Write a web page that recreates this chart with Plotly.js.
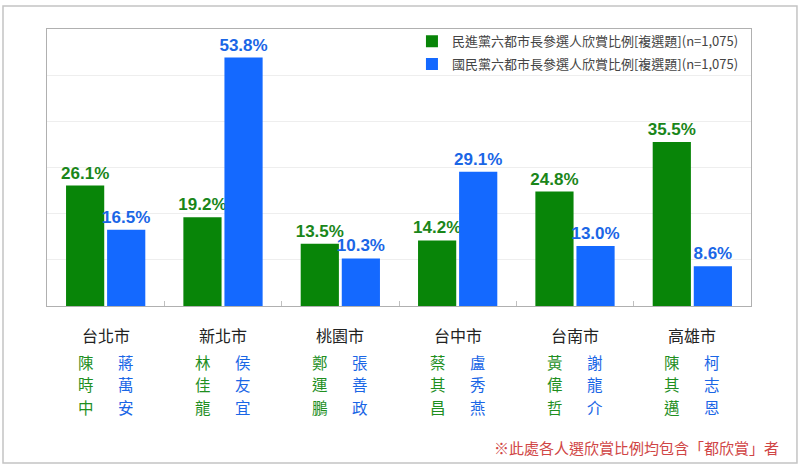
<!DOCTYPE html>
<html><head><meta charset="utf-8">
<script src="https://cdn.plot.ly/plotly-3.0.1.min.js"></script>
<style>body{margin:0;background:#fff}#c{width:800px;height:471px}</style>
</head><body><div id="c"></div>
<script>
const cities = ['台北市','新北市','桃園市','台中市','台南市','高雄市'];
const dppCandidates = ['陳時中','林佳龍','鄭運鵬','蔡其昌','黃偉哲','陳其邁'];
const kmtCandidates = ['蔣萬安','侯友宜','張善政','盧秀燕','謝龍介','柯志恩'];
const dppValues = [26.1, 19.2, 13.5, 14.2, 24.8, 35.5];
const kmtValues = [16.5, 53.8, 10.3, 29.1, 13.0, 8.6];
const dppName = '民進黨六都市長參選人欣賞比例[複選題](n=1,075)';
const kmtName = '國民黨六都市長參選人欣賞比例[複選題](n=1,075)';
const footnote = '※此處各人選欣賞比例均包含「都欣賞」者';

const GREEN = '#088508', BLUE = '#1469ff';
const LG = '#1a861a', LB = '#1a66e6';
const CJK = '"Noto Sans CJK TC", "Noto Sans CJK SC", sans-serif';

const fmt = v => v.toFixed(1) + '%';
const traces = [
  {type:'bar', name:dppName, legendgroup:'a', x:cities, y:dppValues, marker:{color:GREEN},
   text:dppValues.map(fmt), textposition:'outside', cliponaxis:false, constraintext:'none',
   textfont:{family:'Liberation Sans, Arial', size:17, color:LG, weight:'bold'}, hoverinfo:'none'},
  {type:'bar', name:kmtName, legendgroup:'b', x:cities, y:kmtValues, marker:{color:BLUE},
   text:kmtValues.map(fmt), textposition:'outside', cliponaxis:false, constraintext:'none',
   textfont:{family:'Liberation Sans, Arial', size:17, color:LB, weight:'bold'}, hoverinfo:'none'}
];

const ann = [];
cities.forEach((c,i)=>{
  ann.push({x:c, xref:'x', y:0, yref:'y', yanchor:'middle', yshift:-29, text:c, showarrow:false,
    font:{family:CJK, size:16, color:'#222'}});
  [...dppCandidates[i]].forEach((ch,k)=>{
    ann.push({x:c, xref:'x', y:0, yref:'y', yanchor:'middle', yshift:-55.5-22.5*k, xshift:-20, text:ch, showarrow:false,
      font:{family:CJK, size:15.5, color:'#1f8f1f'}});
  });
  [...kmtCandidates[i]].forEach((ch,k)=>{
    ann.push({x:c, xref:'x', y:0, yref:'y', yanchor:'middle', yshift:-55.5-22.5*k, xshift:20, text:ch, showarrow:false,
      font:{family:CJK, size:15.5, color:'#1a66e6'}});
  });
});
ann.push({x:1.042, xref:'paper', xanchor:'right', y:-0.512, yref:'paper', yanchor:'middle', text:footnote, showarrow:false,
  font:{family:CJK, size:15, color:'#d04545'}});

const layout = {
  width:800, height:471,
  margin:{l:47, r:49, t:29, b:165},
  paper_bgcolor:'#fff', plot_bgcolor:'#fff',
  barmode:'group', bargap:0.30, bargroupgap:0.07,
  showlegend:true,
  legend:{x:0.99, xanchor:'right', y:1.01, yanchor:'top', bgcolor:'rgba(0,0,0,0)', traceorder:'grouped', tracegroupgap:3,
    font:{family:CJK, size:13, color:'#444'}, itemwidth:30},
  xaxis:{type:'category', showticklabels:false, showline:true, mirror:true, linecolor:'#b0b0b0', linewidth:1,
    ticks:'inside', tickson:'boundaries', ticklen:5, tickcolor:'#c0c0c0', showgrid:false, fixedrange:true},
  yaxis:{range:[0,60], dtick:10, showticklabels:false, showline:true, mirror:true, linecolor:'#b0b0b0', linewidth:1,
    showgrid:true, gridcolor:'#eeeeee', zeroline:false, fixedrange:true},
  annotations:ann,
  shapes:[{type:'rect', xref:'paper', yref:'paper', x0:-0.0625, x1:1.0653, y0:-0.5668, y1:1.083,
    line:{color:'#c4c4c4', width:1.5}, fillcolor:'rgba(0,0,0,0)', layer:'below'}]
};
Plotly.newPlot('c', traces, layout, {displayModeBar:false, staticPlot:true});
</script></body></html>
